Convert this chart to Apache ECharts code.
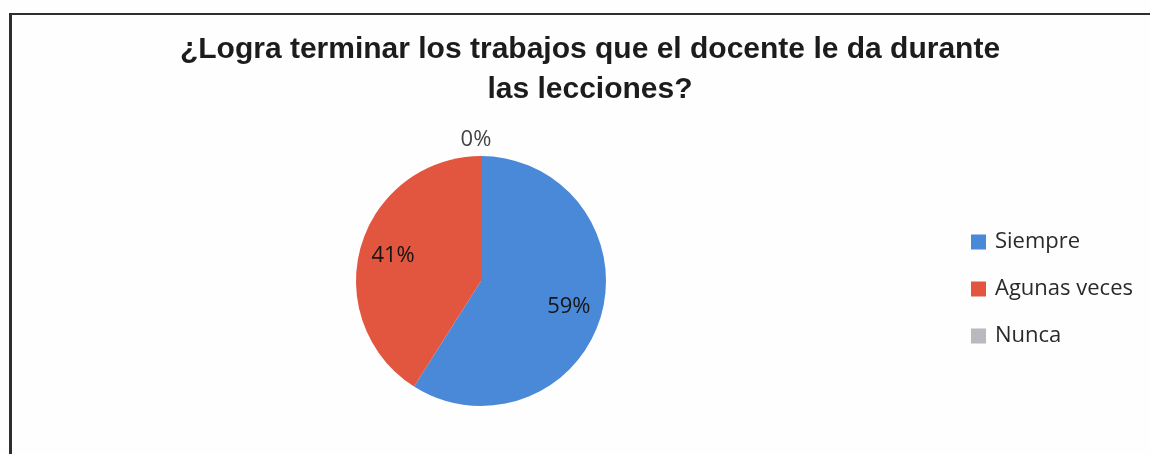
<!DOCTYPE html>
<html>
<head>
<meta charset="utf-8">
<script src="https://cdn.jsdelivr.net/npm/echarts@6/dist/echarts.min.js"></script>
<style>
  html, body { margin: 0; padding: 0; background: #fefefe; }
  #wrap { position: relative; width: 1150px; height: 454px; overflow: hidden; }
  #frame {
    position: absolute; left: 9px; top: 13px; width: 1160px; height: 460px;
    border-top: 2px solid #2e2e2e; border-left: 3px solid #2e2e2e;
  }
  #chart { position: absolute; left: 0; top: 0; width: 1150px; height: 454px; }
</style>
</head>
<body>
<div id="wrap">
  <div id="frame"></div>
  <div id="chart"></div>
</div>
<script>
// Survey answers, share of students (%)
const categories = ['Siempre', 'Agunas veces', 'Nunca'];
const shares = [59, 41, 0];
const sliceColors = ['#4a89d8', '#e2553f', '#b9b9bf'];
const titleText = '¿Logra terminar los trabajos que el docente le da durante\nlas lecciones?';

const chart = echarts.init(document.getElementById('chart'), null, { renderer: 'canvas' });

const pieData = categories.map((name, i) => ({
  name: name,
  value: shares[i],
  itemStyle: { color: sliceColors[i] },
  // only the empty slice keeps its label outside the disc
  label: { show: shares[i] === 0 }
}));

const ringLabelData = categories.map((name, i) => ({
  name: name,
  value: shares[i],
  label: { show: shares[i] > 0 }
}));

const labelFont = '"Open Sans", "DejaVu Sans", sans-serif';

chart.setOption({
  backgroundColor: 'transparent',
  animation: false,
  title: {
    text: titleText,
    left: 585,
    top: 25,
    textAlign: 'center',
    textStyle: {
      fontFamily: '"Liberation Sans", Arial, sans-serif',
      fontWeight: 'bold',
      fontSize: 30,
      lineHeight: 40,
      color: '#1c1c1c'
    }
  },
  legend: {
    orient: 'vertical',
    left: 966,
    top: 226,
    itemWidth: 15,
    itemHeight: 15,
    itemGap: 25,
    icon: 'rect',
    selectedMode: false,
    data: categories,
    textStyle: {
      fontFamily: labelFont,
      fontSize: 22,
      lineHeight: 22,
      color: '#2a2a2a',
      padding: [0, 0, 0, 4]
    }
  },
  series: [
    {
      name: 'Respuestas',
      type: 'pie',
      center: [481, 281],
      radius: [0, 125],
      startAngle: 90,
      clockwise: true,
      avoidLabelOverlap: false,
      legendHoverLink: false,
      emphasis: { disabled: true },
      label: {
        position: 'outside',
        formatter: '{c}%',
        fontFamily: labelFont,
        fontSize: 22,
        color: '#444444'
      },
      labelLine: { show: false, length: 16, length2: 0 },
      labelLayout: function () {
        return { align: 'center', verticalAlign: 'middle' };
      },
      data: pieData
    },
    {
      // transparent ring that carries the in-slice percentages
      name: 'Etiquetas',
      type: 'pie',
      silent: true,
      center: [481, 281],
      radius: [52, 125],
      startAngle: 90,
      clockwise: true,
      avoidLabelOverlap: false,
      legendHoverLink: false,
      emphasis: { disabled: true },
      itemStyle: { color: 'rgba(0,0,0,0)', borderWidth: 0 },
      label: {
        position: 'inside',
        formatter: '{c}%',
        fontFamily: labelFont,
        fontSize: 22,
        color: '#151515'
      },
      labelLine: { show: false },
      data: ringLabelData
    }
  ]
});
</script>
</body>
</html>
